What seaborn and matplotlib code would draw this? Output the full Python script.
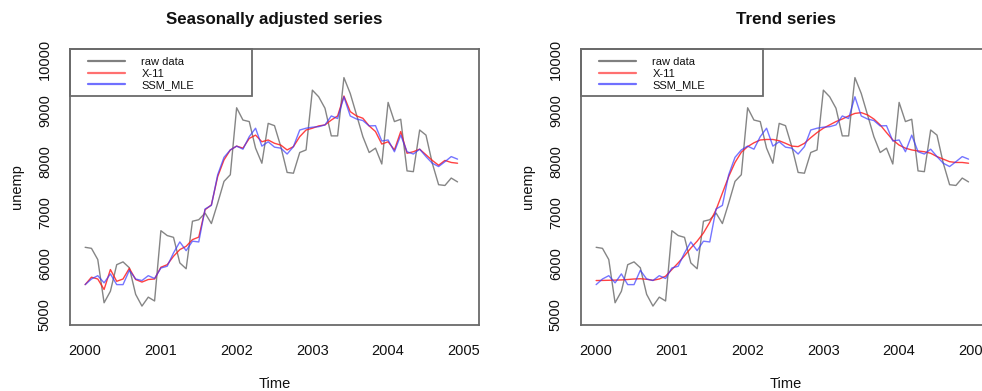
import numpy as np
import pandas as pd
import matplotlib
matplotlib.use("Agg")
import matplotlib.pyplot as plt
from matplotlib.patches import Rectangle
from matplotlib.lines import Line2D
import seaborn as sns

# Monthly unemployment, Jan 2000 - Dec 2004
raw_data = [6320, 6300, 6080, 5235, 5460, 5980, 6035, 5920, 5400, 5170, 5345, 5270,
            6645, 6550, 6515, 6015, 5900, 6830, 6860, 6990, 6785, 7185, 7610, 7740,
            9050, 8810, 8780, 8260, 7965, 8745, 8700, 8290, 7785, 7770, 8175, 8225,
            9395, 9265, 9040, 8500, 8500, 9640, 9330, 8910, 8485, 8175, 8260, 7950,
            9155, 8780, 8825, 7815, 7800, 8615, 8515, 7965, 7545, 7530, 7675, 7600]

x11_sa = [5590, 5735, 5700, 5495, 5885, 5655, 5700, 5910, 5690, 5640, 5690, 5700,
          5930, 5980, 6145, 6275, 6340, 6470, 6520, 7055, 7150, 7705, 8030, 8225,
          8300, 8260, 8450, 8515, 8385, 8420, 8355, 8320, 8225, 8290, 8485, 8615,
          8650, 8695, 8715, 8810, 8890, 9280, 8975, 8890, 8845, 8695, 8585, 8340,
          8385, 8225, 8585, 8160, 8190, 8240, 8130, 8020, 7925, 8020, 7980, 7965]

ssm_sa = [5590, 5700, 5765, 5625, 5800, 5590, 5590, 5870, 5700, 5670, 5765, 5710,
          5915, 5950, 6210, 6425, 6255, 6440, 6425, 7070, 7140, 7740, 8080, 8225,
          8300, 8240, 8485, 8650, 8300, 8385, 8280, 8260, 8145, 8290, 8615, 8650,
          8670, 8680, 8715, 8890, 8840, 9265, 8890, 8830, 8800, 8695, 8700, 8400,
          8420, 8190, 8515, 8190, 8145, 8240, 8095, 7965, 7900, 7995, 8095, 8045]

x11_trend = [5670, 5672, 5675, 5678, 5682, 5690, 5700, 5705, 5695, 5675, 5700, 5755,
             5885, 6015, 6155, 6305, 6440, 6600, 6810, 7055, 7380, 7705, 7980, 8180,
             8290, 8365, 8420, 8430, 8430, 8405, 8355, 8300, 8290, 8355, 8465, 8565,
             8650, 8715, 8780, 8830, 8890, 8940, 8955, 8910, 8830, 8715, 8565, 8420,
             8320, 8260, 8225, 8205, 8190, 8160, 8095, 8045, 7995, 7980, 7980, 7965]

ssm_trend = list(ssm_sa)

x_ticks = [2000, 2001, 2002, 2003, 2004, 2005]
y_ticks = [5000, 6000, 7000, 8000, 9000, 10000]
series_names = ["raw data", "X-11", "SSM_MLE"]
panel_titles = ["Seasonally adjusted series", "Trend series"]

time = 2000 + np.arange(len(raw_data)) / 12.0

sns.set_style("white")
plt.rcParams["font.family"] = ["Liberation Sans", "DejaVu Sans"]

colors = {"raw data": "#7f7f7f", "X-11": "#ff2020", "SSM_MLE": "#3a3aff"}
alphas = {"raw data": 0.95, "X-11": 0.85, "SSM_MLE": 0.7}
legend_colors = {"raw data": "#808080", "X-11": "#ff7070", "SSM_MLE": "#7070ff"}

W, H = 982, 391
fig = plt.figure(figsize=(W / 100, H / 100), dpi=100)

panels = [
    (70, panel_titles[0], x11_sa, ssm_sa),
    (581, panel_titles[1], x11_trend, ssm_trend),
]

for left_px, title, x11_vals, ssm_vals in panels:
    ax = fig.add_axes([left_px / W, 66 / H, 409 / W, 276 / H])
    df = pd.DataFrame({
        "Time": np.concatenate([time, time, time]),
        "unemp": np.concatenate([raw_data, x11_vals, ssm_vals]),
        "series": np.repeat(series_names, len(time)),
    })
    for name in series_names:
        sns.lineplot(data=df[df["series"] == name], x="Time", y="unemp",
                     color=colors[name], alpha=alphas[name], linewidth=1.0,
                     ax=ax, legend=False)

    ax.set_xlim(1999.8, 2005.2)
    ax.set_ylim(4800, 10200)
    ax.set_xticks(x_ticks)
    ax.set_xticklabels([str(t) for t in x_ticks])
    ax.set_yticks(y_ticks)
    ax.set_yticklabels([str(t) for t in y_ticks], rotation=90, va="center")
    ax.tick_params(axis="both", direction="out", length=7, width=1,
                   color="#222222", labelsize=10.5, pad=6, labelcolor="#111111")
    ax.tick_params(axis="x", pad=7)
    for sp in ax.spines.values():
        sp.set_visible(True)
        sp.set_color("#6a6a6a")
        sp.set_linewidth(1.3)
    ax.set_xlabel("Time", fontsize=10.5, labelpad=13, color="#111111")
    ax.set_ylabel("unemp", fontsize=10.5, labelpad=10, color="#111111")
    ax.set_title(title, fontsize=12.2, fontweight="bold", pad=18, color="#111111")

    # legend box in the top-left corner
    ax.add_patch(Rectangle((0, 1 - 47 / 276), 182 / 409, 47 / 276,
                           transform=ax.transAxes, fill=False,
                           edgecolor="#6a6a6a", linewidth=1.3, clip_on=False,
                           zorder=5))
    handles = [Line2D([0], [0], color=legend_colors[n], linewidth=1.6)
               for n in series_names]
    leg = ax.legend(handles, series_names, loc="upper left",
                    bbox_to_anchor=(18 / 409, 1 - 8 / 276), frameon=False,
                    fontsize=8.0, handlelength=3.3, handletextpad=1.5,
                    labelspacing=0.15, borderpad=0, borderaxespad=0)
    for t in leg.get_texts():
        t.set_color("#111111")

fig.savefig("out.png", dpi=100)
